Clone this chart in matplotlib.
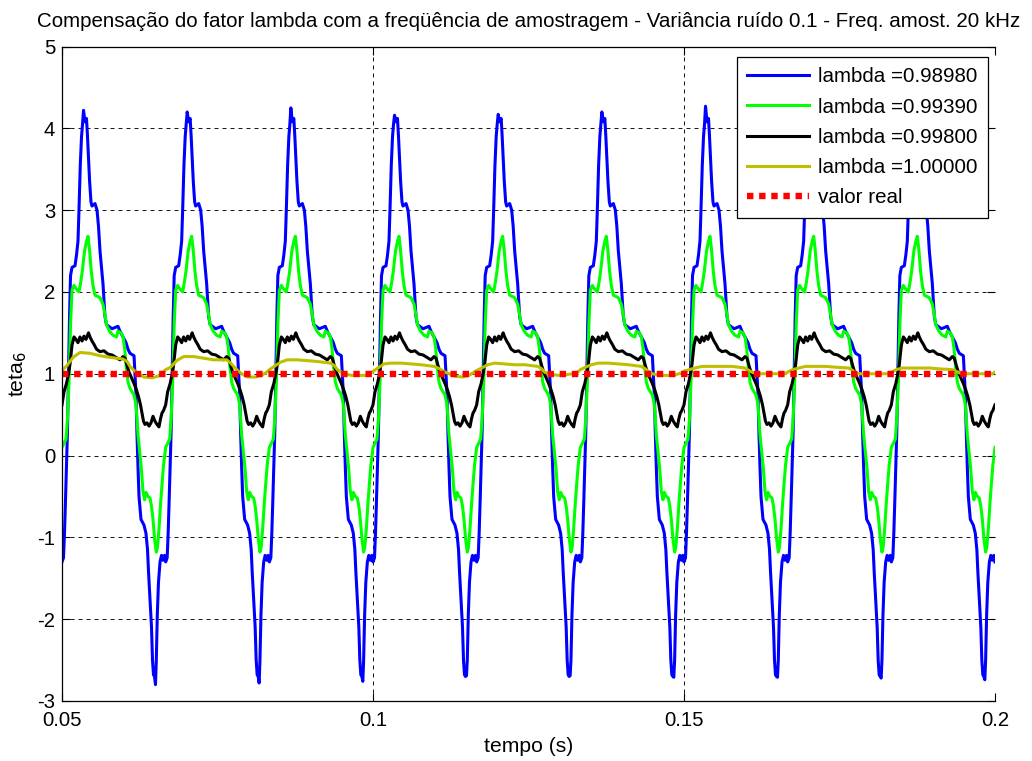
import numpy as np
import matplotlib
matplotlib.use("Agg")
import matplotlib.pyplot as plt

# ---------------------------------------------------------------------------
# Data: estimated parameter teta_6 for several forgetting factors (60 Hz signal)
# ---------------------------------------------------------------------------
t_start = 0.05
t_end = 0.20
period = 1.0 / 60.0
n_cycles = 9

# Blue, lambda = 0.98980 : one steady-state cycle (time offset in ms, value)
blue_off = [0.00, 0.24, 0.40, 0.56, 0.72, 0.88, 1.05, 1.21, 1.37, 1.61,
            2.09, 2.33, 2.57, 2.73, 2.94, 3.14, 3.30, 3.46, 3.70, 3.94,
            4.10, 4.26, 4.44, 4.66, 4.82, 5.31, 5.63, 5.87, 6.11, 6.35,
            6.59, 6.91, 7.15, 8.04, 9.00, 9.32, 9.81, 10.29, 10.61, 10.93,
            11.58, 11.74, 11.90, 12.06, 12.22, 12.38, 12.70, 13.18, 13.50, 13.75,
            13.91, 14.15, 14.39, 14.55, 14.71, 14.87, 15.03, 15.16, 15.32, 15.51,
            15.76, 16.00, 16.24, 16.48]
blue_val = [-1.30, -1.25, -0.95, -0.55, -0.10, 0.30, 1.00, 1.70, 2.20, 2.30,
            2.32, 2.45, 2.62, 3.00, 3.55, 3.90, 4.05, 4.22, 4.08, 4.12,
            3.90, 3.65, 3.35, 3.10, 3.05, 3.08, 3.00, 2.80, 2.50, 2.30,
            2.10, 1.70, 1.60, 1.55, 1.58, 1.52, 1.45, 1.38, 1.30, 1.25,
            1.22, 0.98, 0.75, 0.25, -0.15, -0.50, -0.78, -0.85, -0.95, -1.15,
            -1.42, -1.75, -2.10, -2.50, -2.68, -2.70, -2.82, -2.50, -1.95, -1.55,
            -1.30, -1.22, -1.28, -1.22]
# per-cycle extremes of the blue trace
blue_peaks = [4.22, 4.20, 4.25, 4.16, 4.17, 4.20, 4.27, 4.20, 4.20]
blue_troughs = [-2.80, -2.78, -2.76, -2.69, -2.69, -2.71, -2.71, -2.72, -2.74]

# Green, lambda = 0.99390
green_off = [0.00, 0.32, 0.64, 0.88, 1.13, 1.37, 1.61, 1.93, 2.25, 2.73,
             2.97, 3.26, 3.62, 3.94, 4.18, 4.42, 4.71, 4.98, 5.31, 6.11,
             6.59, 6.91, 7.15, 7.64, 8.20, 8.76, 9.00, 9.49, 9.81, 10.06,
             10.34, 10.61, 10.93, 11.58, 11.90, 12.22, 12.48, 12.75, 13.02, 13.28,
             13.50, 13.83, 14.15, 14.39, 14.63, 14.89, 15.16, 15.35, 15.59, 15.84,
             16.08, 16.32]
green_val = [0.10, 0.15, 0.20, 0.45, 0.90, 1.60, 2.02, 2.08, 2.04, 2.00,
             2.10, 2.25, 2.50, 2.62, 2.68, 2.52, 2.25, 2.08, 1.96, 1.93,
             1.85, 1.72, 1.60, 1.52, 1.47, 1.45, 1.52, 1.50, 1.45, 1.32,
             1.08, 0.90, 0.82, 0.74, 0.62, 0.25, 0.05, -0.15, -0.44, -0.54,
             -0.45, -0.50, -0.52, -0.62, -0.78, -1.02, -1.18, -1.12, -0.90, -0.60,
             -0.35, -0.12]

# Black, lambda = 0.99800
black_off = [0.00, 0.32, 0.72, 1.05, 1.29, 1.61, 1.93, 2.25, 2.57, 2.89,
             3.22, 3.54, 3.86, 4.26, 4.50, 4.82, 5.14, 5.55, 6.11, 6.75,
             7.40, 8.04, 8.68, 9.32, 9.81, 10.13, 10.45, 10.77, 11.17, 11.58,
             11.98, 12.30, 12.62, 12.86, 13.10, 13.34, 13.67, 13.99, 14.31, 14.63,
             14.95, 15.27, 15.59, 15.84, 16.08, 16.32]
black_val = [0.62, 0.78, 0.88, 1.00, 1.12, 1.35, 1.45, 1.42, 1.38, 1.45,
             1.40, 1.46, 1.42, 1.50, 1.45, 1.40, 1.36, 1.30, 1.27, 1.28,
             1.24, 1.23, 1.20, 1.17, 1.21, 1.19, 1.10, 1.02, 0.95, 0.88,
             0.80, 0.72, 0.62, 0.52, 0.42, 0.38, 0.40, 0.36, 0.40, 0.48,
             0.42, 0.38, 0.35, 0.45, 0.52, 0.55]

# Yellow, lambda = 1.00000 : slowly settling, one row per cycle
yellow_off = [0.00, 0.80, 1.77, 2.89, 4.50, 6.11, 7.72, 9.81, 10.45, 10.93,
              11.58, 12.22, 13.18, 14.47, 15.43, 16.24]
yellow_cycles = [
    [1.04, 1.10, 1.20, 1.26, 1.25, 1.22, 1.20, 1.18, 1.15, 1.09, 1.04, 1.00, 0.96, 0.95, 0.97, 1.02],
    [1.05, 1.08, 1.16, 1.21, 1.21, 1.19, 1.17, 1.17, 1.13, 1.09, 1.04, 1.00, 0.96, 0.96, 0.98, 1.02],
    [1.05, 1.09, 1.14, 1.17, 1.17, 1.16, 1.15, 1.13, 1.10, 1.05, 1.02, 1.00, 0.98, 0.98, 0.98, 1.00],
    [1.03, 1.07, 1.12, 1.13, 1.13, 1.12, 1.11, 1.09, 1.07, 1.05, 1.02, 1.00, 0.97, 0.96, 0.98, 1.02],
    [1.04, 1.07, 1.11, 1.13, 1.12, 1.11, 1.11, 1.09, 1.06, 1.02, 1.00, 0.99, 0.98, 0.99, 1.00, 1.02],
    [1.05, 1.08, 1.11, 1.13, 1.13, 1.12, 1.11, 1.09, 1.06, 1.03, 1.00, 0.99, 0.98, 0.98, 0.99, 1.01],
    [1.03, 1.05, 1.07, 1.09, 1.09, 1.09, 1.09, 1.07, 1.04, 1.02, 1.00, 1.00, 1.00, 1.00, 1.00, 1.00],
    [1.02, 1.05, 1.07, 1.09, 1.09, 1.09, 1.08, 1.07, 1.04, 1.01, 1.00, 1.00, 1.00, 1.00, 1.00, 1.00],
    [1.02, 1.05, 1.07, 1.07, 1.07, 1.07, 1.06, 1.05, 1.03, 1.01, 1.00, 1.00, 1.00, 1.00, 1.00, 1.00],
]

valor_real = 1.0

labels = ["lambda =0.98980", "lambda =0.99390", "lambda =0.99800",
          "lambda =1.00000", "valor real"]
x_ticks = [0.05, 0.1, 0.15, 0.2]
x_ticklabels = ["0.05", "0.1", "0.15", "0.2"]
y_ticks = [-3, -2, -1, 0, 1, 2, 3, 4, 5]


def build_trace(offsets_ms, cycles):
    """Concatenate per-cycle samples into one time series ending at t_end."""
    off = np.asarray(offsets_ms) / 1000.0
    t_parts, y_parts = [], []
    for k, vals in enumerate(cycles):
        t_parts.append(t_start + k * period + off)
        y_parts.append(np.asarray(vals, dtype=float))
    t = np.concatenate(t_parts + [[t_end]])
    y = np.concatenate(y_parts + [[cycles[-1][0]]])
    return t, y


blue_cycles = []
for pk, tr in zip(blue_peaks, blue_troughs):
    c = list(blue_val)
    c[17] = pk
    c[56] = tr
    blue_cycles.append(c)

t_b, y_b = build_trace(blue_off, blue_cycles)
t_g, y_g = build_trace(green_off, [green_val] * n_cycles)
t_k, y_k = build_trace(black_off, [black_val] * n_cycles)
t_y, y_y = build_trace(yellow_off, yellow_cycles)

# ---------------------------------------------------------------------------
# Figure
# ---------------------------------------------------------------------------
plt.rcParams["font.family"] = ["Liberation Sans", "DejaVu Sans"]
plt.rcParams["font.size"] = 15
plt.rcParams["axes.unicode_minus"] = False

fig = plt.figure(figsize=(10.32, 7.61), dpi=100, facecolor="white")
ax = fig.add_axes([62 / 1032, 1 - 701 / 761, 933 / 1032, 654.5 / 761])

lw = 2.2
ax.plot(t_b, y_b, color="#0000FF", lw=lw, label=labels[0])
ax.plot(t_g, y_g, color="#00FF00", lw=lw, label=labels[1])
ax.plot(t_k, y_k, color="#000000", lw=lw, label=labels[2])
ax.plot(t_y, y_y, color="#BFBF00", lw=lw, label=labels[3])
ax.plot([t_start, t_end], [valor_real, valor_real], color="#FF0000",
        lw=4.6, linestyle=(0, (1.0, 0.9)), dash_capstyle="butt",
        label=labels[4])

ax.set_xlim(t_start, t_end)
ax.set_ylim(-3, 5)
ax.set_xticks(x_ticks)
ax.set_xticklabels(x_ticklabels)
ax.set_yticks(y_ticks)

ax.grid(True, color="#1a1a1a", linestyle=(0, (4, 4)), linewidth=0.72)
ax.set_axisbelow(True)
ax.tick_params(direction="in", length=6, width=0.8, top=True, right=True,
               labelsize=14.6)
ax.tick_params(axis="x", pad=7)
ax.tick_params(axis="y", pad=5)
for side in ("left", "top", "bottom"):
    ax.spines[side].set_linewidth(0.9)
ax.spines["right"].set_visible(False)

ax.set_title("Compensação do fator lambda com a freqüência de amostragem - "
             "Variância ruído 0.1 - Freq. amost. 20 kHz", fontsize=14.8, pad=14)
ax.set_xlabel("tempo (s)", fontsize=15.2, labelpad=5)
ax.set_ylabel("teta$_6$", fontsize=15.2, labelpad=6)

leg = ax.legend(loc="upper right", bbox_to_anchor=(0.9925, 0.984),
                fancybox=False, framealpha=1.0, edgecolor="black",
                fontsize=14.8, handlelength=3.0, handletextpad=0.45,
                labelspacing=0.55, borderpad=0.5, borderaxespad=0.0)
leg.get_frame().set_linewidth(0.9)

fig.savefig("out.png", dpi=100, facecolor="white")
